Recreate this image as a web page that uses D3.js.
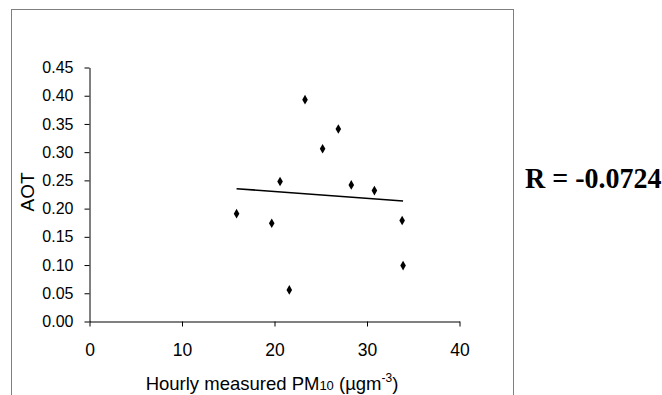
<!DOCTYPE html>
<html>
<head>
<meta charset="utf-8">
<script src="https://cdn.jsdelivr.net/npm/d3@7"></script>
<style>
  body { margin: 0; background: #fff; }
  svg { display: block; }
</style>
</head>
<body>
<svg id="chart" width="662" height="395"></svg>
<script>
// PM10 (µg/m3) vs AOT
var pm10 = [15.9, 19.7, 20.6, 21.6, 23.3, 25.2, 26.9, 28.3, 30.8, 33.8, 33.9]
var aot  = [0.191, 0.174, 0.248, 0.056, 0.393, 0.306, 0.341, 0.242, 0.232, 0.179, 0.099]
var xTicks = [0, 10, 20, 30, 40]
var yTicks = [0, 0.05, 0.10, 0.15, 0.20, 0.25, 0.30, 0.35, 0.40, 0.45]
var rLabel = "R = -0.0724"

var svg = d3.select("#chart")
var font = "'Liberation Sans', Arial, sans-serif"

var x = d3.scaleLinear().domain([0, 40]).range([89.5, 459.5])
var y = d3.scaleLinear().domain([0, 0.45]).range([321.5, 67.5])

// outer frame (bottom runs off the picture)
svg.append("rect")
	.attr("x", 11.5).attr("y", 9.5)
	.attr("width", 502).attr("height", 420)
	.attr("fill", "none")
	.attr("stroke", "#7f7f7f")

var yAxis = svg.append("g")
	.attr("transform", "translate(" + x(0) + ",0)")
	.call(d3.axisLeft(y).tickValues(yTicks).tickFormat(d3.format(".2f")).tickSize(5).tickSizeOuter(0).tickPadding(11))

var xAxis = svg.append("g")
	.attr("transform", "translate(0," + y(0) + ")")
	.call(d3.axisBottom(x).tickValues(xTicks).tickSize(5).tickSizeOuter(0).tickPadding(17))

yAxis.selectAll("text").style("font-family", font).style("font-size", "16px").attr("fill", "#000")
xAxis.selectAll("text").style("font-family", font).style("font-size", "17.5px").attr("fill", "#000")
svg.selectAll(".domain, .tick line").attr("stroke", "#000")

// least squares trend line over the data range
var mx = d3.mean(pm10), my = d3.mean(aot)
var sxy = d3.sum(pm10, (v, i) => (v - mx) * (aot[i] - my))
var sxx = d3.sum(pm10, v => (v - mx) * (v - mx))
var slope = sxy / sxx, icpt = my - slope * mx
var xr = d3.extent(pm10)

svg.append("line")
	.attr("x1", x(xr[0])).attr("y1", y(icpt + slope * xr[0]))
	.attr("x2", x(xr[1])).attr("y2", y(icpt + slope * xr[1]))
	.attr("stroke", "#000")
	.attr("stroke-width", 1.6)

svg.selectAll(".pt")
	.data(pm10)
	.enter().append("path")
	.attr("class", "pt")
	.attr("transform", (d, i) => "translate(" + x(d) + "," + y(aot[i]) + ")")
	.attr("d", d3.symbol().type(d3.symbolDiamond).size(27))
	.attr("fill", "#000")

// axis titles
svg.append("text")
	.attr("transform", "translate(34,192) rotate(-90)")
	.attr("text-anchor", "middle")
	.style("font-family", font)
	.style("font-size", "19px")
	.text("AOT")

var xt = svg.append("text")
	.attr("x", 272).attr("y", 390)
	.attr("text-anchor", "middle")
	.style("font-family", font)
	.style("font-size", "18.5px")
xt.append("tspan").text("Hourly measured PM")
xt.append("tspan").style("font-size", "13px").text("10")
xt.append("tspan").text(" (µgm")
xt.append("tspan").attr("dy", -8).style("font-size", "12px").text("-3")
xt.append("tspan").attr("dy", 8).text(")")

svg.append("text")
	.attr("transform", "translate(525,188) scale(1,1.08)")
	.style("font-family", "'Liberation Serif', 'Times New Roman', serif")
	.style("font-weight", "bold")
	.style("font-size", "28px")
	.text(rLabel)
</script>
</body>
</html>
